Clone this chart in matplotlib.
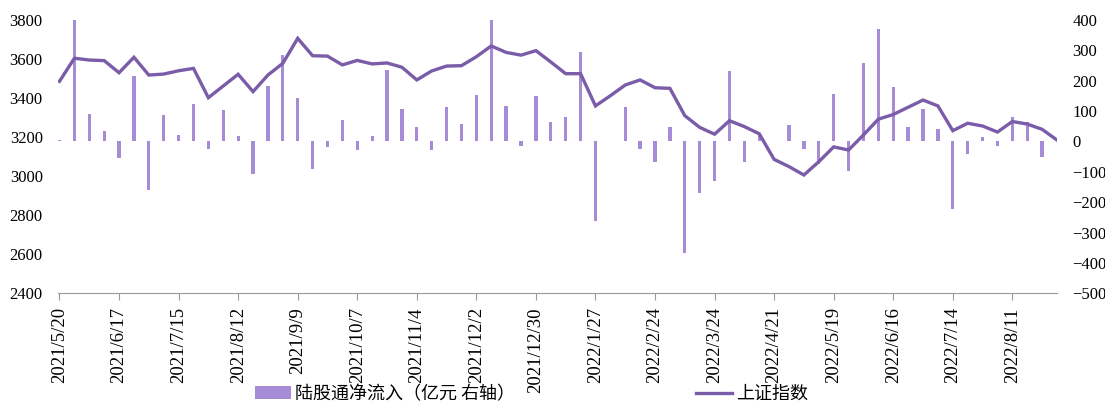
import matplotlib.pyplot as plt
import numpy as np

# weekly Shanghai Composite close and northbound (陆股通) net inflow, 2021/5/20 - 2022/9/1
sh_index = [3486, 3604, 3595, 3592, 3530, 3609, 3518, 3523, 3540, 3552,
            3402, 3462, 3522, 3433, 3518, 3578, 3706, 3617, 3615, 3570,
            3593, 3575, 3580, 3558, 3493, 3539, 3564, 3566, 3612, 3667,
            3634, 3620, 3643, 3585, 3525, 3525, 3360, 3412, 3467, 3493,
            3453, 3450, 3310, 3250, 3215, 3284, 3254, 3217, 3086, 3049,
            3006, 3074, 3150, 3134, 3211, 3292, 3316, 3353, 3390, 3360,
            3233, 3271, 3257, 3226, 3280, 3267, 3240, 3185]
net_inflow = [4, 400, 90, 34, -53, 215, -160, 87, 21, 122,
              -26, 105, 17, -108, 183, 284, 144, -92, -18, 72,
              -29, 17, 235, 108, 48, -29, 114, 59, 153, 400,
              116, -15, 149, 65, 79, 296, -263, 0, 112, -26,
              -67, 46, -366, -169, -130, 232, -67, 22, 3, 54,
              -26, -75, 156, -97, 257, 370, 178, 46, 106, 40,
              -223, -40, 15, -15, 81, 63, -51, 0]
tick_labels = ['2021/5/20', '2021/6/17', '2021/7/15', '2021/8/12', '2021/9/9',
               '2021/10/7', '2021/11/4', '2021/12/2', '2021/12/30', '2022/1/27',
               '2022/2/24', '2022/3/24', '2022/4/21', '2022/5/19', '2022/6/16',
               '2022/7/14', '2022/8/11']

bar_color = '#a68cd6'
line_color = '#7a5ca8'
axis_color = '#9a9a9a'
num_font = 'Liberation Serif'
cjk_font = ['Noto Sans CJK SC', 'DejaVu Sans']

x = np.arange(len(sh_index))

fig = plt.figure(figsize=(11.05, 4.03), dpi=100)
ax = fig.add_axes([58 / 1105, 1 - 293.3 / 403, (1057 - 58) / 1105, (293.3 - 20) / 403])
ax2 = ax.twinx()

# bars on the right axis, index line drawn on top
bars = ax2.bar(x, net_inflow, width=0.22, color=bar_color)
line, = ax.plot(x, sh_index, color=line_color, lw=2.4, solid_joinstyle='miter')
ax.set_zorder(ax2.get_zorder() + 1)
ax.patch.set_visible(False)

ax.set_xlim(-0.1, len(sh_index) - 1)
ax.set_ylim(2400, 3800)
ax.set_yticks(np.arange(2400, 3801, 200))
ax2.set_ylim(-500, 400)
ax2.set_yticks(np.arange(-500, 401, 100))

ax.set_xticks(x[::4])
ax.set_xticklabels(tick_labels, rotation=90, fontfamily=num_font, fontsize=13.5)

for a in (ax, ax2):
    for s in a.spines.values():
        s.set_visible(False)
ax.spines['bottom'].set_visible(True)
ax.spines['bottom'].set_color(axis_color)
ax.tick_params(axis='x', direction='out', length=5, color=axis_color, pad=5)
ax.tick_params(axis='y', length=0, pad=11, labelsize=12)
ax2.tick_params(axis='y', length=0, pad=11, labelsize=12)
for lab in ax.get_yticklabels() + ax2.get_yticklabels():
    lab.set_fontfamily(num_font)

fig.legend([bars, line], ['陆股通净流入（亿元 右轴）', '上证指数'],
           loc='center', bbox_to_anchor=(0.481, 0.022), ncol=2, frameon=False,
           prop={'family': cjk_font, 'size': 13}, handlelength=2.0,
           handletextpad=0.25, columnspacing=10.0, borderpad=0)

fig.savefig('out.png', dpi=100)
